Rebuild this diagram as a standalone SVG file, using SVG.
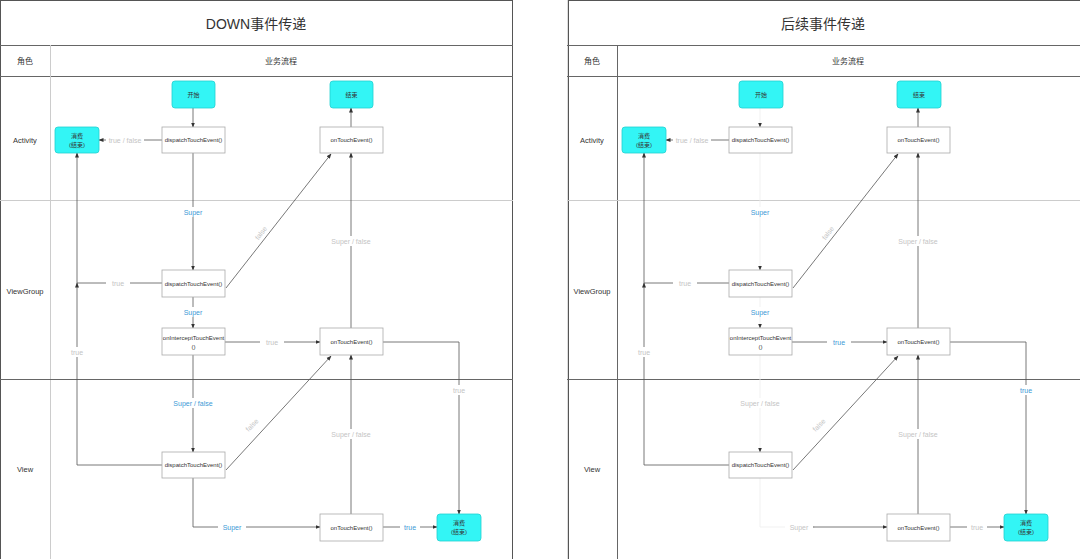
<svg xmlns="http://www.w3.org/2000/svg" width="1080" height="559" viewBox="0 0 1080 559">
<style>
.frame{fill:#fff;stroke:#555;stroke-width:1}
.hl{stroke:#666;stroke-width:1}
.ll{stroke:#ccc;stroke-width:1}
.title{font-family:"Liberation Sans","Noto Sans CJK SC",sans-serif;font-size:14px;fill:#333;text-anchor:middle;dominant-baseline:central}
.hdr{font-family:"Liberation Sans","Noto Sans CJK SC",sans-serif;font-size:8px;fill:#333;text-anchor:middle;dominant-baseline:central}
.lane{font-family:"Liberation Sans","Noto Sans CJK SC",sans-serif;font-size:7.5px;fill:#333;text-anchor:middle;dominant-baseline:central}
.box{fill:#fff;stroke:#aaa;stroke-width:0.8}
.cy{fill:#33f5f5;stroke:#22d0d0;stroke-width:0.8}
.nt{font-family:"Liberation Sans","Noto Sans CJK SC",sans-serif;font-size:6px;fill:#333;text-anchor:middle;dominant-baseline:central}
.e{fill:none;stroke:#555;stroke-width:0.8;marker-end:url(#a)}
.ef{fill:none;stroke:#eeeeee;stroke-width:0.8;marker-end:url(#a)}
.lb{font-family:"Liberation Sans",sans-serif;font-size:7px;text-anchor:middle;dominant-baseline:central}
.blue{fill:#3d9ad6}
.gray{fill:#c4c4c4}
.bg{fill:#fff}
</style>
<defs>
<marker id="a" viewBox="0 0 10 10" refX="9" refY="5" markerWidth="5" markerHeight="5" orient="auto" markerUnits="userSpaceOnUse">
<path d="M0,1 L10,5 L0,9 z" fill="#333"/>
</marker>
</defs>
<rect width="1080" height="559" fill="#fff"/>

<!-- LEFT PANEL -->
<g id="panel-left">
<rect class="frame" x="0.5" y="0.5" width="512" height="560"/>
<line class="hl" x1="0" y1="45.5" x2="513" y2="45.5"/>
<line class="hl" x1="0" y1="76.5" x2="513" y2="76.5"/>
<line class="ll" x1="50.5" y1="45" x2="50.5" y2="559"/>
<line class="ll" x1="0" y1="200.5" x2="513" y2="200.5"/>
<line class="hl" x1="0" y1="379.5" x2="513" y2="379.5"/>
<text class="title" x="256" y="24">DOWN事件传递</text>
<text class="hdr" x="25" y="61">角色</text>
<text class="hdr" x="281" y="61">业务流程</text>
<text class="lane" x="25" y="140">Activity</text>
<text class="lane" x="25" y="291">ViewGroup</text>
<text class="lane" x="25" y="469">View</text>
</g>

<g id="connectors-left">
<path class="e" d="M193,108 V127"/>
<path class="e" d="M162,140 H99"/>
<path class="e" d="M193,153 V270"/>
<path class="e" d="M162,283 H77 V153"/>
<path class="e" d="M162,465 H77 V283"/>
<path class="e" d="M226,288 L331,154"/>
<path class="e" d="M193,297 V328"/>
<path class="e" d="M225,342 H320"/>
<path class="e" d="M193,355 V452"/>
<path class="e" d="M226,470 L331,356"/>
<path class="e" d="M193,478 V527 H320"/>
<path class="e" d="M351,514 V355"/>
<path class="e" d="M351,328 V153"/>
<path class="e" d="M351,127 V108"/>
<path class="e" d="M383,342 H459 V514"/>
<path class="e" d="M383,527 H437"/>
<rect class="bg" x="106" y="135" width="38" height="10"/><text class="lb gray" x="125" y="140">true / false</text>
<rect class="bg" x="178" y="207" width="30" height="10"/><text class="lb blue" x="193" y="212">Super</text>
<rect class="bg" x="106" y="278" width="24" height="10"/><text class="lb gray" x="118" y="283">true</text>
<rect class="bg" x="70" y="347" width="14" height="10"/><text class="lb gray" x="77" y="352">true</text>
<text class="lb gray" x="261" y="233" transform="rotate(-52 261 233)">false</text>
<rect class="bg" x="178" y="307" width="30" height="10"/><text class="lb blue" x="193" y="312">Super</text>
<rect class="bg" x="260" y="337" width="24" height="10"/><text class="lb gray" x="272" y="342">true</text>
<rect class="bg" x="171" y="398" width="44" height="10"/><text class="lb blue" x="193" y="403">Super / false</text>
<text class="lb gray" x="252" y="425" transform="rotate(-45 252 425)">false</text>
<rect class="bg" x="218" y="522" width="28" height="10"/><text class="lb blue" x="232" y="527">Super</text>
<rect class="bg" x="329" y="429" width="44" height="10"/><text class="lb gray" x="351" y="434">Super / false</text>
<rect class="bg" x="329" y="236" width="44" height="10"/><text class="lb gray" x="351" y="241">Super / false</text>
<rect class="bg" x="450" y="385" width="18" height="10"/><text class="lb gray" x="459" y="390">true</text>
<rect class="bg" x="400" y="522" width="20" height="10"/><text class="lb blue" x="410" y="527">true</text>
</g>

<g id="L-start"><rect class="cy" x="172" y="81" width="43" height="27" rx="3"/><text class="nt" x="193.5" y="94.5">开始</text></g>
<g id="L-end"><rect class="cy" x="330" y="81" width="43" height="27" rx="3"/><text class="nt" x="351.5" y="94.5">结束</text></g>
<g id="L-consume1"><rect class="cy" x="55" y="127" width="44" height="26" rx="3"/><text class="nt" x="77" y="136">消费</text><text class="nt" x="77" y="144.5">(结束)</text></g>
<g id="L-act-dispatch"><rect class="box" x="162" y="127" width="63" height="26"/><text class="nt" x="193.5" y="140">dispatchTouchEvent()</text></g>
<g id="L-act-ontouch"><rect class="box" x="320" y="127" width="63" height="26"/><text class="nt" x="351.5" y="140">onTouchEvent()</text></g>
<g id="L-vg-dispatch"><rect class="box" x="162" y="270" width="63" height="27"/><text class="nt" x="193.5" y="283.5">dispatchTouchEvent()</text></g>
<g id="L-vg-intercept"><rect class="box" x="162" y="328" width="63" height="27"/><text class="nt" x="193.5" y="338">onInterceptTouchEvent</text><text class="nt" x="193.5" y="346.5">()</text></g>
<g id="L-vg-ontouch"><rect class="box" x="320" y="328" width="63" height="27"/><text class="nt" x="351.5" y="341.5">onTouchEvent()</text></g>
<g id="L-v-dispatch"><rect class="box" x="162" y="452" width="63" height="26"/><text class="nt" x="193.5" y="465">dispatchTouchEvent()</text></g>
<g id="L-v-ontouch"><rect class="box" x="320" y="514" width="63" height="27"/><text class="nt" x="351.5" y="527.5">onTouchEvent()</text></g>
<g id="L-consume2"><rect class="cy" x="437" y="514" width="44" height="27" rx="3"/><text class="nt" x="459" y="523">消费</text><text class="nt" x="459" y="531.5">(结束)</text></g>

<!-- RIGHT PANEL -->
<g transform="translate(567,0)">
<g id="panel-right">
<rect x="0" y="0" width="3" height="559" fill="#ddd"/>
<rect class="frame" x="1.5" y="0.5" width="512" height="560"/>
<line class="hl" x1="0" y1="45.5" x2="513" y2="45.5"/>
<line class="hl" x1="0" y1="76.5" x2="513" y2="76.5"/>
<line class="hl" x1="50.5" y1="45" x2="50.5" y2="559"/>
<line class="ll" x1="0" y1="200.5" x2="513" y2="200.5"/>
<line class="hl" x1="0" y1="379.5" x2="513" y2="379.5"/>
<text class="title" x="256" y="24">后续事件传递</text>
<text class="hdr" x="25" y="61">角色</text>
<text class="hdr" x="281" y="61">业务流程</text>
<text class="lane" x="25" y="140">Activity</text>
<text class="lane" x="25" y="291">ViewGroup</text>
<text class="lane" x="25" y="469">View</text>
</g>

<g id="connectors-right">
<path class="ef" d="M193,108 V127"/>
<path class="e" d="M162,140 H99"/>
<path class="ef" d="M193,153 V270"/>
<path class="e" d="M162,283 H77 V153"/>
<path class="e" d="M162,465 H77 V283"/>
<path class="e" d="M226,288 L331,154"/>
<path class="ef" d="M193,297 V328"/>
<path class="e" d="M225,342 H320"/>
<path class="ef" d="M193,355 V452"/>
<path class="e" d="M226,470 L331,356"/>
<path class="ef" d="M193,478 V527 H247"/>
<path class="e" d="M247,527 H320"/>
<path class="e" d="M351,514 V355"/>
<path class="e" d="M351,328 V153"/>
<path class="e" d="M351,127 V108"/>
<path class="e" d="M383,342 H459 V514"/>
<path class="e" d="M383,527 H437"/>
<rect class="bg" x="106" y="135" width="38" height="10"/><text class="lb gray" x="125" y="140">true / false</text>
<rect class="bg" x="178" y="207" width="30" height="10"/><text class="lb blue" x="193" y="212">Super</text>
<rect class="bg" x="106" y="278" width="24" height="10"/><text class="lb gray" x="118" y="283">true</text>
<rect class="bg" x="70" y="347" width="14" height="10"/><text class="lb gray" x="77" y="352">true</text>
<text class="lb gray" x="261" y="233" transform="rotate(-52 261 233)">false</text>
<rect class="bg" x="178" y="307" width="30" height="10"/><text class="lb blue" x="193" y="312">Super</text>
<rect class="bg" x="260" y="337" width="24" height="10"/><text class="lb blue" x="272" y="342">true</text>
<rect class="bg" x="171" y="398" width="44" height="10"/><text class="lb gray" x="193" y="403">Super / false</text>
<text class="lb gray" x="252" y="425" transform="rotate(-45 252 425)">false</text>
<rect class="bg" x="218" y="522" width="28" height="10"/><text class="lb gray" x="232" y="527">Super</text>
<rect class="bg" x="329" y="429" width="44" height="10"/><text class="lb gray" x="351" y="434">Super / false</text>
<rect class="bg" x="329" y="236" width="44" height="10"/><text class="lb gray" x="351" y="241">Super / false</text>
<rect class="bg" x="450" y="385" width="18" height="10"/><text class="lb blue" x="459" y="390">true</text>
<rect class="bg" x="400" y="522" width="20" height="10"/><text class="lb gray" x="410" y="527">true</text>
</g>

<g id="R-start"><rect class="cy" x="172" y="81" width="44" height="27" rx="3"/><text class="nt" x="194" y="94.5">开始</text></g>
<g id="R-end"><rect class="cy" x="330" y="81" width="44" height="27" rx="3"/><text class="nt" x="352" y="94.5">结束</text></g>
<g id="R-consume1"><rect class="cy" x="55" y="127" width="44" height="26" rx="3"/><text class="nt" x="77" y="136">消费</text><text class="nt" x="77" y="144.5">(结束)</text></g>
<g id="R-act-dispatch"><rect class="box" x="162" y="127" width="63" height="26"/><text class="nt" x="193.5" y="140">dispatchTouchEvent()</text></g>
<g id="R-act-ontouch"><rect class="box" x="320" y="127" width="63" height="26"/><text class="nt" x="351.5" y="140">onTouchEvent()</text></g>
<g id="R-vg-dispatch"><rect class="box" x="162" y="270" width="63" height="27"/><text class="nt" x="193.5" y="283.5">dispatchTouchEvent()</text></g>
<g id="R-vg-intercept"><rect class="box" x="162" y="328" width="63" height="27"/><text class="nt" x="193.5" y="338">onInterceptTouchEvent</text><text class="nt" x="193.5" y="346.5">()</text></g>
<g id="R-vg-ontouch"><rect class="box" x="320" y="328" width="63" height="27"/><text class="nt" x="351.5" y="341.5">onTouchEvent()</text></g>
<g id="R-v-dispatch"><rect class="box" x="162" y="452" width="63" height="26"/><text class="nt" x="193.5" y="465">dispatchTouchEvent()</text></g>
<g id="R-v-ontouch"><rect class="box" x="320" y="514" width="63" height="27"/><text class="nt" x="351.5" y="527.5">onTouchEvent()</text></g>
<g id="R-consume2"><rect class="cy" x="437" y="514" width="44" height="27" rx="3"/><text class="nt" x="459" y="523">消费</text><text class="nt" x="459" y="531.5">(结束)</text></g>
</g>
</svg>
